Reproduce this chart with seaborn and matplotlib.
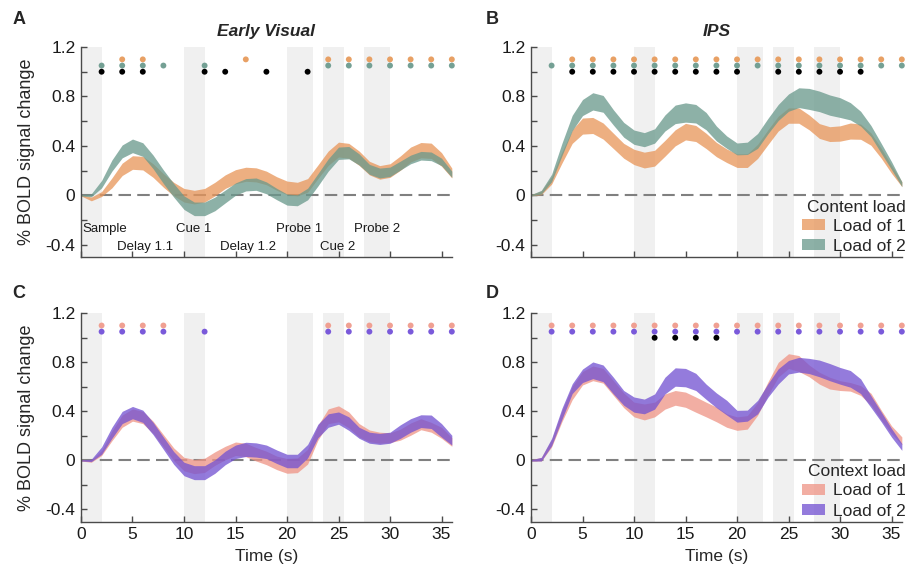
import numpy as np
import pandas as pd
import matplotlib
matplotlib.use("Agg")
import matplotlib.pyplot as plt
from matplotlib.patches import Patch
import seaborn as sns

# ---------------------------------------------------------------------------
# Time courses (% BOLD signal change), mean and SEM sampled every second
# ---------------------------------------------------------------------------
time_s = np.arange(0, 37)

# Early visual cortex, content load
ev_content1_mean = [0.0, -0.03, 0.01, 0.10, 0.21, 0.265, 0.26, 0.20, 0.12, 0.05, 0.0, -0.015,
                    0.0, 0.05, 0.11, 0.15, 0.17, 0.165, 0.14, 0.095, 0.06, 0.05, 0.08, 0.19,
                    0.30, 0.37, 0.36, 0.30, 0.22, 0.185, 0.20, 0.26, 0.33, 0.365, 0.36, 0.29, 0.18]
ev_content1_sem = [0.005, 0.015, 0.02, 0.04, 0.05, 0.055, 0.055, 0.055, 0.055, 0.055, 0.055, 0.055,
                   0.055, 0.055, 0.055, 0.057, 0.057, 0.057, 0.055, 0.055, 0.055, 0.055, 0.055, 0.055,
                   0.058, 0.06, 0.06, 0.058, 0.055, 0.055, 0.055, 0.058, 0.06, 0.062, 0.062, 0.055, 0.04]
ev_content2_mean = [0.0, 0.0, 0.09, 0.24, 0.355, 0.40, 0.37, 0.27, 0.15, 0.04, -0.06, -0.11,
                    -0.11, -0.07, -0.01, 0.05, 0.085, 0.09, 0.06, 0.01, -0.035, -0.04, 0.01, 0.125,
                    0.245, 0.34, 0.345, 0.29, 0.21, 0.18, 0.19, 0.24, 0.29, 0.32, 0.315, 0.27, 0.17]
ev_content2_sem = [0.005, 0.012, 0.03, 0.045, 0.052, 0.055, 0.055, 0.055, 0.055, 0.055, 0.055, 0.055,
                   0.055, 0.055, 0.052, 0.05, 0.05, 0.05, 0.048, 0.046, 0.045, 0.045, 0.047, 0.05,
                   0.05, 0.05, 0.05, 0.045, 0.04, 0.04, 0.038, 0.036, 0.035, 0.035, 0.035, 0.03, 0.025]

# IPS, content load
ips_content1_mean = [0.0, 0.02, 0.12, 0.305, 0.475, 0.56, 0.565, 0.52, 0.44, 0.36, 0.31, 0.285,
                     0.30, 0.38, 0.465, 0.515, 0.50, 0.44, 0.37, 0.32, 0.28, 0.28, 0.355, 0.47,
                     0.58, 0.645, 0.645, 0.59, 0.52, 0.495, 0.50, 0.52, 0.515, 0.455, 0.34, 0.21, 0.09]
ips_content1_sem = [0.005, 0.015, 0.03, 0.045, 0.055, 0.065, 0.065, 0.065, 0.062, 0.06, 0.062, 0.064,
                    0.064, 0.064, 0.065, 0.067, 0.065, 0.062, 0.058, 0.055, 0.055, 0.055, 0.057, 0.06,
                    0.06, 0.062, 0.062, 0.06, 0.06, 0.06, 0.062, 0.065, 0.062, 0.05, 0.04, 0.032, 0.02]
ips_content2_mean = [0.0, 0.025, 0.14, 0.37, 0.585, 0.71, 0.76, 0.74, 0.63, 0.53, 0.47, 0.45,
                     0.48, 0.585, 0.655, 0.67, 0.66, 0.60, 0.50, 0.43, 0.375, 0.38, 0.44, 0.56,
                     0.67, 0.75, 0.79, 0.78, 0.76, 0.73, 0.71, 0.68, 0.62, 0.52, 0.38, 0.24, 0.09]
ips_content2_sem = [0.005, 0.015, 0.03, 0.05, 0.062, 0.065, 0.07, 0.068, 0.062, 0.06, 0.058, 0.057,
                    0.058, 0.065, 0.075, 0.078, 0.075, 0.07, 0.06, 0.05, 0.048, 0.05, 0.06, 0.062,
                    0.065, 0.07, 0.08, 0.085, 0.083, 0.082, 0.08, 0.07, 0.06, 0.045, 0.04, 0.032, 0.02]

# Early visual cortex, context load
ev_context1_mean = [0.0, -0.005, 0.06, 0.20, 0.32, 0.37, 0.35, 0.27, 0.16, 0.05, -0.03, -0.05,
                    -0.04, 0.015, 0.06, 0.095, 0.085, 0.05, 0.02, -0.02, -0.045, -0.04, 0.03, 0.225,
                    0.36, 0.38, 0.33, 0.245, 0.20, 0.185, 0.185, 0.21, 0.255, 0.295, 0.27, 0.225, 0.15]
ev_context1_sem = [0.005, 0.01, 0.02, 0.04, 0.05, 0.05, 0.05, 0.05, 0.05, 0.052, 0.055, 0.058,
                   0.058, 0.055, 0.055, 0.055, 0.055, 0.055, 0.055, 0.055, 0.06, 0.06, 0.06, 0.06,
                   0.06, 0.065, 0.065, 0.055, 0.048, 0.045, 0.04, 0.045, 0.05, 0.045, 0.04, 0.045, 0.035]
ev_context2_mean = [0.0, 0.0, 0.08, 0.225, 0.35, 0.39, 0.36, 0.26, 0.14, 0.02, -0.07, -0.10,
                    -0.10, -0.05, 0.02, 0.07, 0.09, 0.085, 0.07, 0.03, -0.005, -0.005, 0.075, 0.24,
                    0.325, 0.345, 0.30, 0.225, 0.185, 0.175, 0.185, 0.235, 0.285, 0.32, 0.315, 0.245, 0.165]
ev_context2_sem = [0.005, 0.01, 0.03, 0.045, 0.05, 0.05, 0.05, 0.05, 0.05, 0.052, 0.055, 0.057,
                   0.057, 0.055, 0.055, 0.055, 0.058, 0.058, 0.055, 0.055, 0.055, 0.055, 0.055, 0.055,
                   0.055, 0.05, 0.055, 0.045, 0.045, 0.045, 0.045, 0.055, 0.055, 0.052, 0.055, 0.055, 0.04]

# IPS, context load
ips_context1_mean = [0.0, 0.01, 0.14, 0.36, 0.55, 0.67, 0.71, 0.69, 0.59, 0.49, 0.415, 0.395,
                     0.415, 0.48, 0.51, 0.495, 0.455, 0.415, 0.375, 0.325, 0.30, 0.31, 0.42, 0.585,
                     0.74, 0.81, 0.79, 0.73, 0.67, 0.63, 0.61, 0.60, 0.57, 0.50, 0.37, 0.25, 0.16]
ips_context1_sem = [0.005, 0.015, 0.03, 0.045, 0.055, 0.055, 0.06, 0.06, 0.06, 0.06, 0.06, 0.065,
                    0.06, 0.062, 0.06, 0.062, 0.062, 0.06, 0.06, 0.055, 0.055, 0.055, 0.052, 0.055,
                    0.06, 0.06, 0.065, 0.048, 0.048, 0.048, 0.04, 0.035, 0.04, 0.048, 0.04, 0.032, 0.032]
ips_context2_mean = [0.0, 0.01, 0.15, 0.38, 0.585, 0.69, 0.735, 0.71, 0.61, 0.51, 0.455, 0.44,
                     0.48, 0.61, 0.68, 0.675, 0.64, 0.56, 0.49, 0.43, 0.36, 0.365, 0.435, 0.57,
                     0.685, 0.76, 0.78, 0.77, 0.75, 0.72, 0.69, 0.665, 0.605, 0.48, 0.355, 0.225, 0.11]
ips_context2_sem = [0.005, 0.015, 0.03, 0.045, 0.04, 0.055, 0.068, 0.068, 0.068, 0.06, 0.062, 0.06,
                    0.062, 0.068, 0.075, 0.075, 0.07, 0.062, 0.06, 0.06, 0.048, 0.045, 0.055, 0.055,
                    0.062, 0.055, 0.06, 0.062, 0.068, 0.07, 0.068, 0.068, 0.06, 0.048, 0.04, 0.035, 0.028]

# Time points with significant activation (load 1, load 2) and load differences
ev_content_sig1 = [4, 6, 16, 24, 26, 28, 30, 32, 34, 36]
ev_content_sig2 = [2, 4, 6, 8, 12, 24, 26, 28, 30, 32, 34, 36]
ev_content_diff = [2, 4, 6, 12, 14, 18, 22]

ips_content_sig1 = [4, 6, 8, 10, 12, 14, 16, 18, 20, 22, 24, 26, 28, 30, 32, 34, 36]
ips_content_sig2 = [2, 4, 6, 8, 10, 12, 14, 16, 18, 20, 22, 24, 26, 28, 30, 32, 34, 36]
ips_content_diff = [4, 6, 8, 10, 12, 14, 16, 18, 20, 24, 26, 28, 30, 32]

ev_context_sig1 = [2, 4, 6, 8, 24, 26, 28, 30, 32, 34, 36]
ev_context_sig2 = [2, 4, 6, 8, 12, 24, 26, 28, 30, 32, 34, 36]
ev_context_diff = []

ips_context_sig1 = [2, 4, 6, 8, 10, 12, 14, 16, 18, 20, 22, 24, 26, 28, 30, 32, 34, 36]
ips_context_sig2 = [2, 4, 6, 8, 10, 12, 14, 16, 18, 20, 22, 24, 26, 28, 30, 32, 34, 36]
ips_context_diff = [12, 14, 16, 18]

# Trial epochs
epoch_starts = [0, 10, 20, 23.5, 27.5]
epoch_ends = [2, 12, 22.5, 25.5, 30]
epoch_names = ["Sample", "Delay 1.1", "Cue 1", "Delay 1.2", "Probe 1", "Cue 2", "Probe 2"]

legend_labels = ["Load of 1", "Load of 2"]

# ---------------------------------------------------------------------------
sns.set_theme(style="ticks")
plt.rcParams["font.family"] = ["Liberation Sans", "DejaVu Sans"]
plt.rcParams["axes.edgecolor"] = "#4a4a4a"
plt.rcParams["xtick.color"] = "#4a4a4a"
plt.rcParams["ytick.color"] = "#4a4a4a"
plt.rcParams["xtick.labelcolor"] = "#1a1a1a"
plt.rcParams["ytick.labelcolor"] = "#1a1a1a"

content_colors = ["#E8965A", "#6A998C"]
content_dots = ["#E8A064", "#74A094"]
context_colors = ["#EF9586", "#7352D2"]
context_dots = ["#F0A092", "#7A5ADA"]
band_alpha = 0.76

fig = plt.figure(figsize=(9.06, 5.68), dpi=100)
ax_a = fig.add_axes([0.0894, 0.5475, 0.4093, 0.3697])
ax_b = fig.add_axes([0.5861, 0.5475, 0.4093, 0.3697])
ax_c = fig.add_axes([0.0894, 0.0815, 0.4093, 0.3670])
ax_d = fig.add_axes([0.5861, 0.0815, 0.4093, 0.3670])


def draw_panel(ax, m1, s1, m2, s2, colors, dot_colors, sig1, sig2, diff, bottom):
    for x0, x1 in zip(epoch_starts, epoch_ends):
        ax.axvspan(x0, x1, color="#F0F0F0", lw=0, zorder=0)
    ax.axhline(0, color="#808080", lw=1.5, ls=(0, (6, 3)), zorder=1)

    for m, s, c in ((m1, s1, colors[0]), (m2, s2, colors[1])):
        m = np.asarray(m)
        s = np.asarray(s)
        ax.fill_between(time_s, m - s, m + s, color=c, alpha=band_alpha, lw=0, zorder=2)

    dots = pd.DataFrame({
        "time": list(sig1) + list(sig2) + list(diff),
        "row": [1.10] * len(sig1) + [1.05] * len(sig2) + [1.00] * len(diff),
        "kind": ["load1"] * len(sig1) + ["load2"] * len(sig2) + ["diff"] * len(diff),
    })
    pal = {"load1": dot_colors[0], "load2": dot_colors[1], "diff": "black"}
    sns.scatterplot(data=dots, x="time", y="row", hue="kind", palette=pal, s=18,
                    edgecolor="none", legend=False, ax=ax, zorder=3, clip_on=False)

    ax.set_xlim(0, 36)
    ax.set_ylim(-0.5, 1.2)
    ax.set_xticks([0, 5, 10, 15, 20, 25, 30, 35])
    ax.set_yticks([-0.4, -0.2, 0, 0.2, 0.4, 0.6, 0.8, 1.0, 1.2])
    ax.set_yticklabels(["-0.4", "", "0", "", "0.4", "", "0.8", "", "1.2"])
    ax.tick_params(direction="in", length=4, width=1, labelsize=12.5, pad=4)
    if bottom:
        ax.set_xlabel("Time (s)", fontsize=12.5, labelpad=5)
    else:
        ax.set_xticklabels([])
        ax.set_xlabel("")
    ax.set_ylabel("")
    for side in ("top", "right"):
        ax.spines[side].set_visible(False)
    for side in ("left", "bottom"):
        ax.spines[side].set_linewidth(1.0)


draw_panel(ax_a, ev_content1_mean, ev_content1_sem, ev_content2_mean, ev_content2_sem,
           content_colors, content_dots, ev_content_sig1, ev_content_sig2, ev_content_diff, False)
draw_panel(ax_b, ips_content1_mean, ips_content1_sem, ips_content2_mean, ips_content2_sem,
           content_colors, content_dots, ips_content_sig1, ips_content_sig2, ips_content_diff, False)
draw_panel(ax_c, ev_context1_mean, ev_context1_sem, ev_context2_mean, ev_context2_sem,
           context_colors, context_dots, ev_context_sig1, ev_context_sig2, ev_context_diff, True)
draw_panel(ax_d, ips_context1_mean, ips_context1_sem, ips_context2_mean, ips_context2_sem,
           context_colors, context_dots, ips_context_sig1, ips_context_sig2, ips_context_diff, True)

for ax in (ax_a, ax_c):
    ax.set_ylabel("% BOLD signal change", fontsize=13)
    ax.yaxis.set_label_coords(-0.125, 0.5)

ax_a.set_title("Early Visual", fontsize=12.5, fontweight="bold", fontstyle="italic", pad=8)
ax_b.set_title("IPS", fontsize=12.5, fontweight="bold", fontstyle="italic", pad=8)

# Epoch names under the curves of the early visual panel
label_x = [0.1, 6.2, 10.9, 16.2, 21.15, 24.9, 28.7]
label_y = [-0.275, -0.42, -0.275, -0.42, -0.275, -0.42, -0.275]
label_ha = ["left", "center", "center", "center", "center", "center", "center"]
for name, x, y, ha in zip(epoch_names, label_x, label_y, label_ha):
    ax_a.text(x, y, name, fontsize=9.5, ha=ha, va="center", color="#1a1a1a", zorder=4)

# Legends
for ax, title, colors in ((ax_b, "Content load", content_colors),
                          (ax_d, "Context load", context_colors)):
    handles = [Patch(facecolor=c, edgecolor="none", alpha=band_alpha) for c in colors]
    leg = ax.legend(handles, legend_labels, title=title, loc="lower right",
                    bbox_to_anchor=(1.04, -0.035), frameon=False, fontsize=12.5,
                    title_fontsize=12.5, handlelength=1.3, handleheight=0.6,
                    handletextpad=0.5, labelspacing=0.3, borderaxespad=0.2)
    leg._legend_box.align = "right"
    leg._legend_box.sep = 3

# Panel letters
for letter, x, y in (("A", 0.021, 0.966), ("B", 0.543, 0.966),
                     ("C", 0.021, 0.484), ("D", 0.543, 0.484)):
    fig.text(x, y, letter, fontsize=13, fontweight="bold", ha="center", va="center")

fig.savefig("out.png", dpi=100)
